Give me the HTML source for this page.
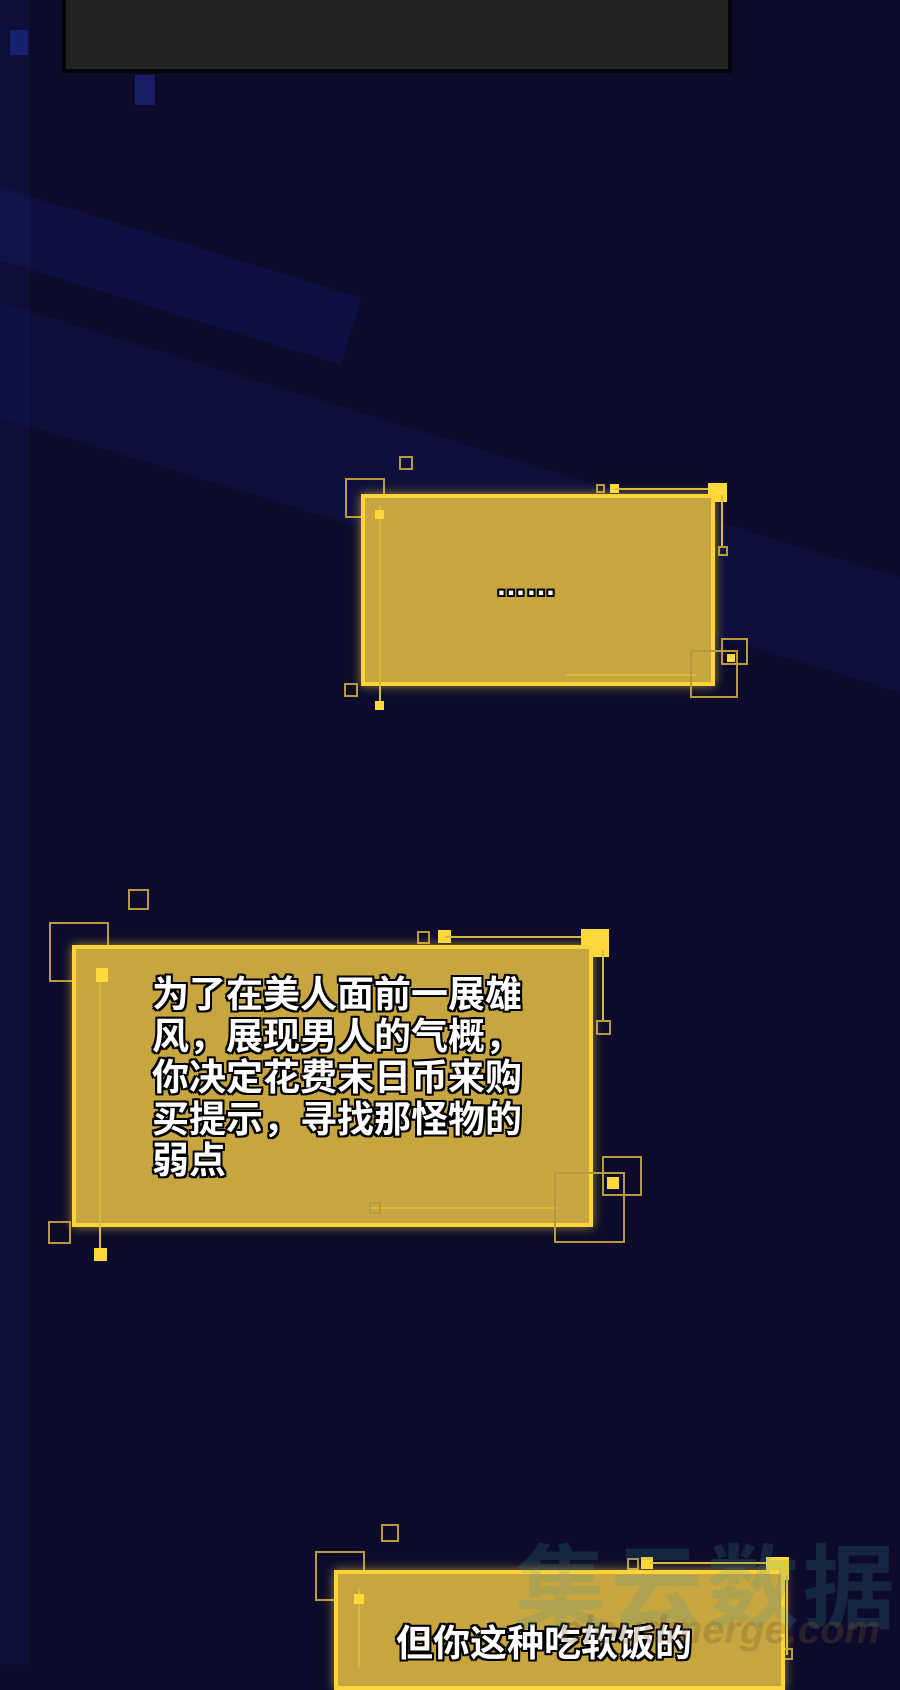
<!DOCTYPE html>
<html><head><meta charset="utf-8"><style>
html,body{margin:0;padding:0}
body{width:900px;height:1665px;position:relative;overflow:hidden;background:#0c0b2b;font-family:"Liberation Sans","Noto Sans CJK SC",sans-serif}
.a{position:absolute;box-sizing:border-box}
.o{border:2px solid #b89a3c}
.s{background:#ffd83a}
.ln{background:#d9b93e}
.box{position:absolute;box-sizing:border-box;background:#c7a53f;border:4px solid #ffd43a;box-shadow:0 0 10px rgba(255,214,60,.6)}
.t{position:absolute;color:#fff;font-size:37px;line-height:41.5px;font-weight:bold;white-space:nowrap;text-shadow:2px 0 0 #000,-2px 0 0 #000,0 2px 0 #000,0 -2px 0 #000,2px 2px 0 #000,-2px -2px 0 #000,2px -2px 0 #000,-2px 2px 0 #000}
.band{position:absolute;background:rgba(25,35,150,.22);transform-origin:0 0}
</style></head><body>
<div class="band" style="left:-40px;top:175px;width:420px;height:70px;transform:rotate(17deg)"></div>
<div class="band" style="left:-40px;top:290px;width:1100px;height:110px;transform:rotate(17deg);background:rgba(25,35,150,.16)"></div>
<div class="a" style="left:0;top:0;width:30px;height:1665px;background:rgba(20,25,90,.3)"></div>
<div class="a" style="left:10px;top:30px;width:18px;height:25px;background:rgba(40,60,190,.4)"></div>
<div class="a" style="left:135px;top:75px;width:20px;height:30px;background:rgba(40,60,190,.4)"></div>

<div class="a" style="left:62px;top:-10px;width:670px;height:83px;background:#222;border:4px solid #050505"></div>

<!-- Box 1 -->
<div class="a o" style="left:345px;top:478px;width:40px;height:40px"></div>
<div class="a o" style="left:399px;top:456px;width:14px;height:14px"></div>
<div class="a o" style="left:596px;top:484px;width:9px;height:9px"></div>
<div class="a s" style="left:610px;top:484px;width:9px;height:9px"></div>
<div class="a ln" style="left:615px;top:488px;width:100px;height:2px"></div>
<div class="a s" style="left:708px;top:483px;width:19px;height:19px"></div>
<div class="a ln" style="left:721px;top:495px;width:2px;height:52px"></div>
<div class="a o" style="left:718px;top:546px;width:10px;height:10px"></div>
<div class="box" style="left:361px;top:494px;width:354px;height:192px"></div>
<div class="a ln" style="left:379px;top:505px;width:2px;height:200px"></div>
<div class="a s" style="left:375px;top:701px;width:9px;height:9px"></div>
<div class="a s" style="left:375px;top:510px;width:9px;height:9px"></div>
<div class="a o" style="left:344px;top:683px;width:14px;height:14px"></div>
<div class="a ln" style="left:566px;top:674px;width:130px;height:2px"></div>
<div class="a o" style="left:690px;top:650px;width:48px;height:48px"></div>
<div class="a o" style="left:721px;top:638px;width:27px;height:27px"></div>
<div class="a s" style="left:727px;top:654px;width:8px;height:8px"></div>
<div class="t" style="left:496px;top:565px;font-size:30px">……</div>

<!-- Box 2 -->
<div class="a o" style="left:49px;top:922px;width:60px;height:60px"></div>
<div class="a o" style="left:128px;top:889px;width:21px;height:21px"></div>
<div class="a o" style="left:417px;top:931px;width:13px;height:13px"></div>
<div class="a s" style="left:438px;top:930px;width:13px;height:13px"></div>
<div class="a ln" style="left:445px;top:936px;width:150px;height:2px"></div>
<div class="a s" style="left:581px;top:929px;width:28px;height:28px"></div>
<div class="a ln" style="left:602px;top:950px;width:2px;height:70px"></div>
<div class="a o" style="left:596px;top:1020px;width:15px;height:15px"></div>
<div class="box" style="left:72px;top:945px;width:521px;height:282px"></div>
<div class="a ln" style="left:99px;top:970px;width:2px;height:282px"></div>
<div class="a s" style="left:96px;top:968px;width:12px;height:14px"></div>
<div class="a s" style="left:94px;top:1248px;width:13px;height:13px"></div>
<div class="a o" style="left:48px;top:1221px;width:23px;height:23px"></div>
<div class="a ln" style="left:371px;top:1207px;width:186px;height:2px"></div>
<div class="a o" style="left:369px;top:1202px;width:12px;height:12px"></div>
<div class="a o" style="left:554px;top:1172px;width:71px;height:71px"></div>
<div class="a o" style="left:602px;top:1156px;width:40px;height:40px"></div>
<div class="a s" style="left:607px;top:1177px;width:12px;height:12px"></div>
<div class="t" style="left:152px;top:974px">为了在美人面前一展雄<br>风，展现男人的气概，<br>你决定花费末日币来购<br>买提示，寻找那怪物的<br>弱点</div>

<!-- Box 3 -->
<div class="a o" style="left:315px;top:1551px;width:50px;height:50px"></div>
<div class="a o" style="left:381px;top:1524px;width:18px;height:18px"></div>
<div class="a o" style="left:627px;top:1558px;width:12px;height:12px"></div>
<div class="a s" style="left:641px;top:1557px;width:12px;height:12px"></div>
<div class="a ln" style="left:650px;top:1562px;width:130px;height:2px"></div>
<div class="a s" style="left:766px;top:1557px;width:23px;height:23px"></div>
<div class="a ln" style="left:786px;top:1575px;width:2px;height:80px"></div>
<div class="a o" style="left:781px;top:1648px;width:12px;height:12px"></div>
<div class="box" style="left:334px;top:1570px;width:451px;height:120px"></div>
<div class="a ln" style="left:358px;top:1588px;width:2px;height:80px"></div>
<div class="a s" style="left:354px;top:1594px;width:10px;height:10px"></div>
<div class="t" style="left:396px;top:1623px">但你这种吃软饭的</div>

<div class="a" style="left:515px;top:1515px;font-size:92px;font-weight:bold;color:rgba(70,150,150,.2);letter-spacing:4px;white-space:nowrap">集云数据</div>
<div class="a" style="left:560px;top:1608px;font-size:40px;font-weight:bold;font-style:italic;color:rgba(120,90,50,.28);white-space:nowrap">cloudmerge.com</div>
</body></html>
